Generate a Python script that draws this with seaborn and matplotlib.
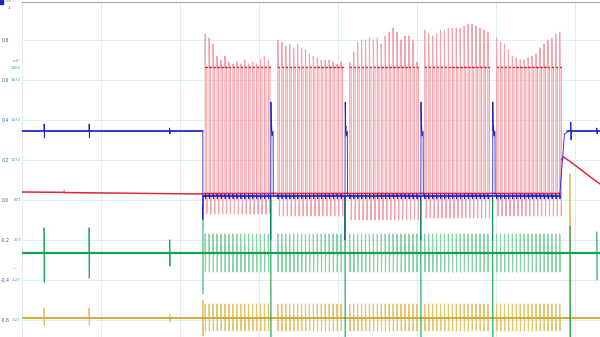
"""
Four-channel recording with five stimulation bursts (red), blue step
channel and two field channels (green, gold).  Values read off the trace.
"""

import numpy as np
import pandas as pd
import matplotlib
matplotlib.use("Agg")
import matplotlib.pyplot as plt
import seaborn as sns

# ----- values (time in s, amplitude in V) -----
t_end = 73.2
stim_on = 22.9
stim_off = 68.1
burst_start = [23.2, 32.4, 41.5, 51.0, 60.1]
pulse_period = 0.5
pulse_width = 0.2
red_peaks = [
    [0.83, 0.81, 0.78, 0.72, 0.70, 0.72, 0.69, 0.68, 0.69, 0.68, 0.70, 0.68, 0.69, 0.68, 0.70, 0.72, 0.70],
    [0.80, 0.79, 0.77, 0.78, 0.76, 0.78, 0.76, 0.75, 0.73, 0.72, 0.71, 0.70, 0.70, 0.70, 0.69, 0.68, 0.69],
    [0.69, 0.74, 0.79, 0.80, 0.80, 0.81, 0.80, 0.81, 0.78, 0.82, 0.84, 0.86, 0.84, 0.80, 0.82, 0.82, 0.80, 0.69],
    [0.85, 0.83, 0.82, 0.83, 0.85, 0.85, 0.86, 0.86, 0.86, 0.86, 0.87, 0.88, 0.88, 0.87, 0.86, 0.85, 0.84],
    [0.81, 0.79, 0.78, 0.75, 0.72, 0.71, 0.70, 0.70, 0.71, 0.72, 0.73, 0.76, 0.78, 0.80, 0.81, 0.83, 0.84],
]
red_troughs = [-0.07, -0.08, -0.10, -0.09, -0.08]
red_plateau = 0.665
red_base = 0.035
red_recovery_t = [68.1, 68.3, 68.6, 69.5, 70.5, 71.5, 72.5, 73.2]
red_recovery_v = [0.035, 0.20, 0.215, 0.19, 0.16, 0.13, 0.10, 0.08]

gap_times = [31.5, 40.9, 50.5, 59.6]

blue_high = 0.345
blue_low = 0.02
pre_events = [2.8, 8.5, 18.7]
blue_pre_hi = [0.38, 0.38, 0.36]
blue_pre_lo = [0.31, 0.31, 0.33]

green_base = -0.265
green_pre_hi = [-0.14, -0.14, -0.20]
green_pre_lo = [-0.41, -0.39, -0.33]
green_pulse = (-0.17, -0.36)
green_end_t = [69.4, 72.8]
green_end_hi = [-0.13, -0.16]
green_end_lo = [-0.69, -0.40]

gold_base = -0.59
gold_pre_hi = [-0.54, -0.54, -0.57]
gold_pre_lo = [-0.63, -0.63, -0.61]
gold_pulse = (-0.52, -0.655)

y_ticks = [-0.6, -0.4, -0.2, 0.0, 0.2, 0.4, 0.6, 0.8]
mv_labels = ["-527", "-127", "273", "673", "1073", "1473", "1873"]

RED, BLUE, GREEN, GOLD = "#e0283a", "#1a22c8", "#14a052", "#c9a21e"
RED_LT, GREEN_LT, GOLD_LT = "#f4a3ab", "#86d3a6", "#e4c671"


def spike(pts, t, hi, lo, base):
    pts += [(t, base), (t, hi), (t + 0.03, lo), (t + 0.06, base)]


def pulse_times():
    out = []
    for start, peaks in zip(burst_start, red_peaks):
        out += [start + i * pulse_period for i in range(len(peaks))]
    return out


def draw(ax, pts, color, lw, units=False):
    cols = ["t", "v", "seg"] if units else ["t", "v"]
    df = pd.DataFrame(pts, columns=cols)
    sns.lineplot(data=df, x="t", y="v", sort=False, estimator=None,
                 units="seg" if units else None,
                 color=color, lw=lw, ax=ax)


# ----- red channel: thin transients + thick baseline / plateau -----
red = [(0, 0.04), (5.3, 0.04), (5.35, 0.05), (5.4, 0.035), (stim_on, 0.03)]
red_hold = [(0, 0.04, 0), (stim_on, 0.03, 0), (stim_on, red_base, 1), (stim_off, red_base, 1)]
k = 2
for start, peaks, trough in zip(burst_start, red_peaks, red_troughs):
    for i, pk in enumerate(peaks):
        t0 = start + i * pulse_period
        red += [(t0, red_base), (t0, pk), (t0 + 0.03, red_plateau),
                (t0 + pulse_width, red_plateau), (t0 + pulse_width, trough),
                (t0 + pulse_width + 0.03, red_base)]
        red_hold += [(t0 + 0.02, red_plateau, k), (t0 + pulse_width, red_plateau, k)]
        k += 1
red += list(zip(red_recovery_t, red_recovery_v))
red_hold += [(t, v, k) for t, v in zip(red_recovery_t[1:], red_recovery_v[1:])]

# ----- blue channel -----
blue = [(0, blue_high)]
for t, hi, lo in zip(pre_events, blue_pre_hi, blue_pre_lo):
    spike(blue, t, hi, lo, blue_high)
blue += [(stim_on, blue_high), (stim_on, -0.15), (stim_on + 0.05, blue_low)]
for t0 in pulse_times():
    spike(blue, t0, blue_low + 0.01, blue_low - 0.015, blue_low)
for g in gap_times:
    blue += [(g, blue_low), (g, -0.2), (g + 0.03, 0.49), (g + 0.08, blue_high),
             (g + 0.12, 0.37), (g + 0.16, 0.32), (g + 0.3, blue_high), (g + 0.32, blue_low)]
blue.sort(key=lambda p: p[0])
blue += [(stim_off, blue_low), (68.7, 0.33), (69.3, blue_high)]
spike(blue, 69.5, 0.39, 0.30, blue_high)
spike(blue, 72.8, 0.36, 0.33, blue_high)
blue += [(t_end, blue_high)]
blue_hold = [(0, blue_high, 0), (stim_on, blue_high, 0),
             (stim_on, blue_low, 1), (stim_off, blue_low, 1),
             (69.0, blue_high, 2), (t_end, blue_high, 2)]

# ----- green channel -----
green = [(0, green_base)]
for t, hi, lo in zip(pre_events, green_pre_hi, green_pre_lo):
    spike(green, t, hi, lo, green_base)
spike(green, stim_on, -0.10, -0.47, green_base)
for t0 in pulse_times():
    spike(green, t0, green_pulse[0], green_pulse[1], green_base)
green.sort(key=lambda p: p[0])
green += [(t_end, green_base)]
green_big = []
for j, g in enumerate(gap_times):
    green_big += [(g, 0.0, j), (g + 0.03, -0.69, j)]
for j, (t, hi, lo) in enumerate(zip(green_end_t, green_end_hi, green_end_lo)):
    green_big += [(t, hi, 10 + j), (t + 0.03, lo, 10 + j)]
for j, (t, hi, lo) in enumerate(zip(pre_events, green_pre_hi, green_pre_lo)):
    green_big += [(t, hi, 20 + j), (t + 0.03, lo, 20 + j)]

# ----- gold channel -----
gold = [(0, gold_base)]
for t, hi, lo in zip(pre_events, gold_pre_hi, gold_pre_lo):
    spike(gold, t, hi, lo, gold_base)
spike(gold, stim_on, -0.50, -0.68, gold_base)
for t0 in pulse_times():
    spike(gold, t0, gold_pulse[0], gold_pulse[1], gold_base)
gold.sort(key=lambda p: p[0])
gold_big = [(69.4, 0.13, 0), (69.43, -0.69, 0)]
gold += [(t_end, gold_base)]

# ----- plot -----
sns.set_theme(style="white")
fig = plt.figure(figsize=(6, 3.37), dpi=100)
ax = fig.add_axes([22 / 600, 0, 578 / 600, 1 - 2 / 337])

draw(ax, red, RED_LT, 0.8)
draw(ax, red_hold, RED, 1.0, units=True)
draw(ax, blue, BLUE, 0.6)
draw(ax, blue_hold, BLUE, 1.1, units=True)
draw(ax, gold, GOLD_LT, 0.8)
draw(ax, [(0, gold_base), (t_end, gold_base)], GOLD, 1.1)
draw(ax, gold_big, GOLD, 0.8, units=True)
draw(ax, green, GREEN_LT, 0.8)
draw(ax, [(0, green_base), (t_end, green_base)], GREEN, 1.6)
draw(ax, green_big, GREEN, 0.8, units=True)

ax.set_xlim(0, t_end)
ax.set_ylim(-0.685, 0.99)
ax.set_xticks(np.arange(0, 71, 10))
ax.set_yticks(y_ticks)
ax.set_yticklabels([f"{v:.1f}" for v in y_ticks])
ax.tick_params(axis="x", length=0, labelbottom=False)
ax.tick_params(axis="y", length=0, pad=9, labelsize=3.3, labelcolor="#4a5a9a")
ax.grid(True, color="#d9eeea", lw=0.6)
ax.set_xlabel("")
ax.set_ylabel("")
for side in ["left", "right", "bottom"]:
    ax.spines[side].set_visible(False)
ax.spines["top"].set_color("#a8a8a8")
ax.spines["top"].set_linewidth(0.8)

# secondary mV scale
trans = matplotlib.transforms.blended_transform_factory(fig.transFigure, ax.transData)
for v, lab in zip(y_ticks[:-1], mv_labels):
    ax.text(21 / 600, v, lab, transform=trans, ha="right", va="center",
            fontsize=2.8, color="#3aa08e")
ax.text(21 / 600, 0.66, "2000", transform=trans, ha="right", va="center",
        fontsize=2.8, color="#3aa08e")
ax.text(19 / 600, 0.695, "mV", transform=trans, ha="right", va="center",
        fontsize=2.8, color="#3aa08e")
ax.text(17 / 600, -0.34, "—", transform=trans, ha="right", va="center",
        fontsize=2.8, color="#3aa08e")

fig.patches.append(plt.Rectangle((0, 1 - 4 / 337), 3 / 600, 4 / 337,
                                 transform=fig.transFigure, color=BLUE))
fig.text(4 / 600, 1 - 1.5 / 337, "T1B", fontsize=2.5, color="#8080a0", va="center")
fig.text(9 / 600, 1 - 8 / 337, "1", fontsize=3.2, color="#4a5a9a", ha="center", va="center")

fig.savefig("out.png", dpi=100)
